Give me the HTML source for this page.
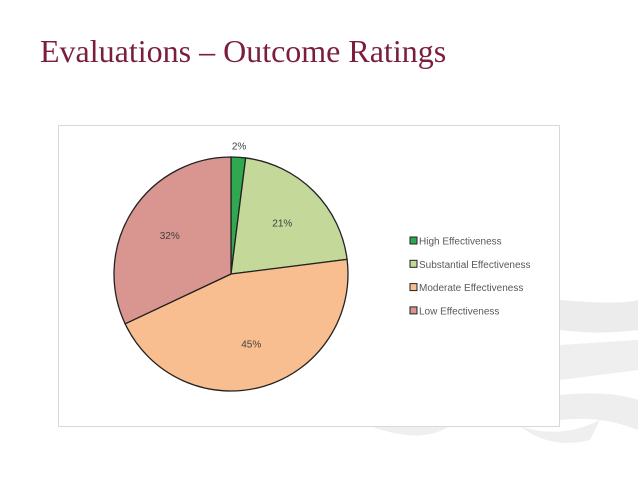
<!DOCTYPE html>
<html><head><meta charset="utf-8"><style>
body{margin:0;width:638px;height:479px;background:#fff;overflow:hidden;position:relative;font-family:"Liberation Sans",sans-serif}
#title{position:absolute;left:40px;top:33px;font-family:"Liberation Serif",serif;font-size:32px;color:#7b1e3e;white-space:nowrap}
svg{position:absolute;left:0;top:0}
</style></head><body>
<svg width="638" height="479">
<path d="M560 300 Q620 305 638 300 L638 330 Q600 335 560 330 Z" fill="#ececec"/>
<path d="M560 345 L638 340 L638 370 Q600 375 560 380 Z" fill="#efefef"/>
<path d="M560 395 Q610 390 638 400 L638 430 Q600 415 560 420 Z" fill="#eeeeee"/>
<path d="M370 426 Q420 445 450 426 Z M520 426 Q560 440 600 420 L590 440 Q550 450 520 426Z" fill="#efefef"/>
</svg>
<div id="title">Evaluations – Outcome Ratings</div>
<svg id="chart" width="638" height="479">
<rect x="58.5" y="125.5" width="501" height="301" fill="#fff" stroke="#d9d9d9"/>
<g id="slices"></g><g id="legend"></g>
</svg>
<script>
const categories=["High Effectiveness","Substantial Effectiveness","Moderate Effectiveness","Low Effectiveness"];
const values=[2,21,45,32];
const labels=["2%","21%","45%","32%"];
const colors=["#2fa84f","#c4d89a","#f9be8f","#d9958f"];
const cx=231,cy=274,r=117;
const ns="http://www.w3.org/2000/svg";
const total=values.reduce((a,b)=>a+b,0);
const g=document.getElementById('slices'),lg=document.getElementById('legend');
let a0=0;
function pt(a,rr){return [cx+rr*Math.sin(a),cy-rr*Math.cos(a)];}
values.forEach((v,i)=>{
 const a1=a0+v/total*2*Math.PI;
 const p0=pt(a0,r),p1=pt(a1,r);
 const path=document.createElementNS(ns,'path');
 path.setAttribute('d',`M${cx} ${cy} L${p0[0]} ${p0[1]} A${r} ${r} 0 ${a1-a0>Math.PI?1:0} 1 ${p1[0]} ${p1[1]} Z`);
 path.setAttribute('fill',colors[i]);path.setAttribute('stroke','#222');path.setAttribute('stroke-width','1.3');
 
 
 g.appendChild(path);
 const mid=(a0+a1)/2;
 const lp= v<5? pt(mid,r+12): pt(mid,r*0.62);
 const t=document.createElementNS(ns,'text');
 t.setAttribute('x',lp[0]);t.setAttribute('y',lp[1]+4);t.setAttribute('text-anchor','middle');
 t.setAttribute('font-size','10');t.setAttribute('fill','#404040');t.textContent=labels[i];
 
 
 g.appendChild(t);
 const y=241+i*23.3;
 const sq=document.createElementNS(ns,'rect');
 sq.setAttribute('x',410);sq.setAttribute('y',y-4);sq.setAttribute('width',7);sq.setAttribute('height',7);
 sq.setAttribute('fill',colors[i]);sq.setAttribute('stroke','#222');
 
 
 lg.appendChild(sq);
 const lt=document.createElementNS(ns,'text');
 lt.setAttribute('x',419);lt.setAttribute('y',y+3.5);lt.setAttribute('font-size','10');lt.setAttribute('fill','#595959');
 lt.textContent=categories[i];
 
 
 lg.appendChild(lt);
 a0=a1;
});
</script>
</body></html>
